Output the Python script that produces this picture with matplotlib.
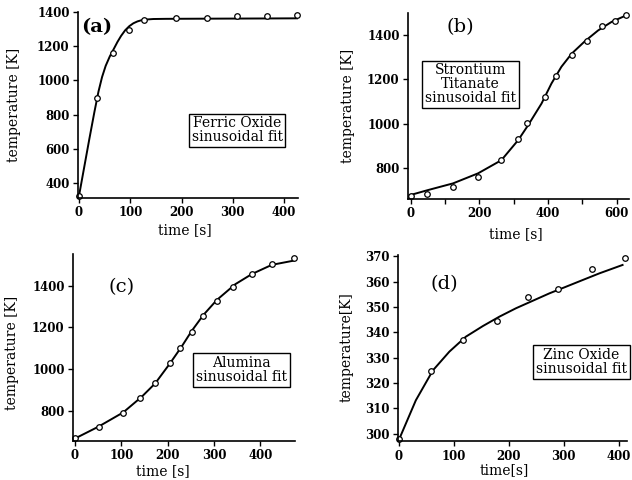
import matplotlib
matplotlib.use('Agg')
import matplotlib.pyplot as plt
from matplotlib.ticker import MultipleLocator

plt.rcParams['font.family'] = 'DejaVu Serif'

# (a) Ferric Oxide
a_t = [0, 34.5, 66, 97, 127, 189, 250, 308, 367, 425]
a_T = [325, 898, 1163, 1294, 1352, 1362, 1362, 1375, 1375, 1383]
a_fit_t = [0, 10, 20, 30, 38, 45, 52, 60, 68, 75, 82, 90, 98, 106, 114, 122, 131, 145, 170, 250, 350, 427]
a_fit_T = [325, 490, 655, 815, 935, 1020, 1085, 1140, 1185, 1225, 1260, 1293, 1317, 1334, 1345, 1352, 1356, 1359, 1360, 1361, 1362, 1363]

# (b) Strontium Titanate
b_t = [0, 47, 122, 195, 264, 313, 339, 390, 422, 469, 513, 556, 596, 628]
b_T = [677, 684, 715, 761, 836, 933, 1004, 1122, 1213, 1310, 1373, 1437, 1461, 1486]
b_fit_t = [-3, 50, 123, 196, 264, 313, 342, 381, 410, 439, 469, 507, 546, 585, 624]
b_fit_T = [680, 703, 733, 778, 837, 927, 994, 1091, 1181, 1256, 1315, 1370, 1419, 1457, 1484]

# (c) Alumina
c_t = [0, 52, 104, 140, 173, 206, 227, 252, 277, 307, 342, 383, 426, 472]
c_T = [667, 720, 790, 860, 934, 1028, 1100, 1177, 1253, 1327, 1395, 1458, 1503, 1532]
c_fit_t = [0, 50, 104, 144, 173, 205, 230, 252, 277, 306, 346, 382, 425, 472]
c_fit_T = [667, 723, 792, 867, 931, 1027, 1107, 1183, 1259, 1331, 1407, 1456, 1500, 1520]

# (d) Zinc Oxide
d_t = [0, 58, 116, 179, 235, 290, 352, 411]
d_T = [298, 324.7, 337, 344.5, 353.8, 357.1, 365, 369.5]
d_fit_t = [0, 31, 62, 92, 122, 153, 183, 213, 244, 274, 304, 335, 365, 407]
d_fit_T = [297.5, 313.2, 325, 332.4, 338.3, 342.5, 346.2, 349.5, 352.5, 355.4, 358, 360.7, 363.3, 366.6]

fig = plt.figure(figsize=(6.32, 4.8), dpi=100)


def panel(rect, t, T, ft, fT, xlim, ylim, xstep, ystep, tag, tag_xy, box, box_xy,
          xlab, ylab, xlab_xy, ylab_xy, box_ha='center', tag_w='bold'):
    ax = fig.add_axes(rect)
    ax.plot(ft, fT, color='black', lw=1.4)
    ax.plot(t, T, 'o', mfc='white', mec='black', ms=4, mew=0.9, clip_on=False)
    ax.set_xlim(xlim)
    ax.set_ylim(ylim)
    ax.xaxis.set_major_locator(MultipleLocator(xstep))
    ax.yaxis.set_major_locator(MultipleLocator(ystep))
    for s in ['top', 'right']:
        ax.spines[s].set_visible(False)
    for s in ['left', 'bottom']:
        ax.spines[s].set_linewidth(1.2)
    ax.tick_params(direction='out', length=3.5, width=1, labelsize=8.5, pad=2.5)
    for lab in ax.get_xticklabels() + ax.get_yticklabels():
        lab.set_fontweight('bold')
    ax.set_xlabel(xlab, fontsize=10)
    ax.set_ylabel(ylab, fontsize=10)
    ax.xaxis.set_label_coords(*xlab_xy)
    ax.yaxis.set_label_coords(*ylab_xy)
    ax.text(tag_xy[0], tag_xy[1], tag, transform=ax.transAxes, fontsize=14,
            fontweight=tag_w, ha='center', va='center')
    ax.text(box_xy[0], box_xy[1], box, transform=ax.transAxes, fontsize=10,
            ha=box_ha, va='center', linespacing=1.0, multialignment='center',
            clip_on=False,
            bbox=dict(boxstyle='square,pad=0.2', fc='white', ec='black', lw=1))
    return ax


panel([0.1234, 0.5875, 0.348, 0.3875], a_t, a_T, a_fit_t, a_fit_T,
      (-2, 427), (312, 1400), 100, 200, '(a)', (0.086, 0.919),
      'Ferric Oxide\nsinusoidal fit', (0.723, 0.363),
      'time [s]', 'temperature [K]', (0.486, -0.134), (-0.259, 0.5))

ax_b = panel([0.6456, 0.5854, 0.3497, 0.3875], b_t, b_T, b_fit_t, b_fit_T,
             (-8, 636), (663, 1497), 200, 200, '(b)', (0.238, 0.922),
             'Strontium\nTitanate\nsinusoidal fit', (0.283, 0.616),
             'time [s]', 'temperature [K]', (0.489, -0.15), (-0.24, 0.503),
             tag_w='normal')
ax_b.xaxis.set_minor_locator(MultipleLocator(100))
ax_b.tick_params(which='minor', direction='out', length=3.5, width=1)

panel([0.1155, 0.08125, 0.3513, 0.3896], c_t, c_T, c_fit_t, c_fit_T,
      (-4.3, 475), (655, 1552), 100, 200, '(c)', (0.218, 0.824),
      'Alumina\nsinusoidal fit', (0.759, 0.38),
      'time [s]', 'temperature [K]', (0.407, -0.123), (-0.242, 0.47),
      tag_w='normal')

panel([0.6293, 0.0806, 0.3623, 0.388], d_t, d_T, d_fit_t, d_fit_T,
      (-2, 414.5), (297, 370.5), 100, 10, '(d)', (0.205, 0.842),
      'Zinc Oxide\nsinusoidal fit', (0.604, 0.426),
      'time[s]', 'temperature[K]', (0.466, -0.116), (-0.192, 0.506),
      box_ha='left', tag_w='normal')

fig.savefig('out.png', dpi=100)
